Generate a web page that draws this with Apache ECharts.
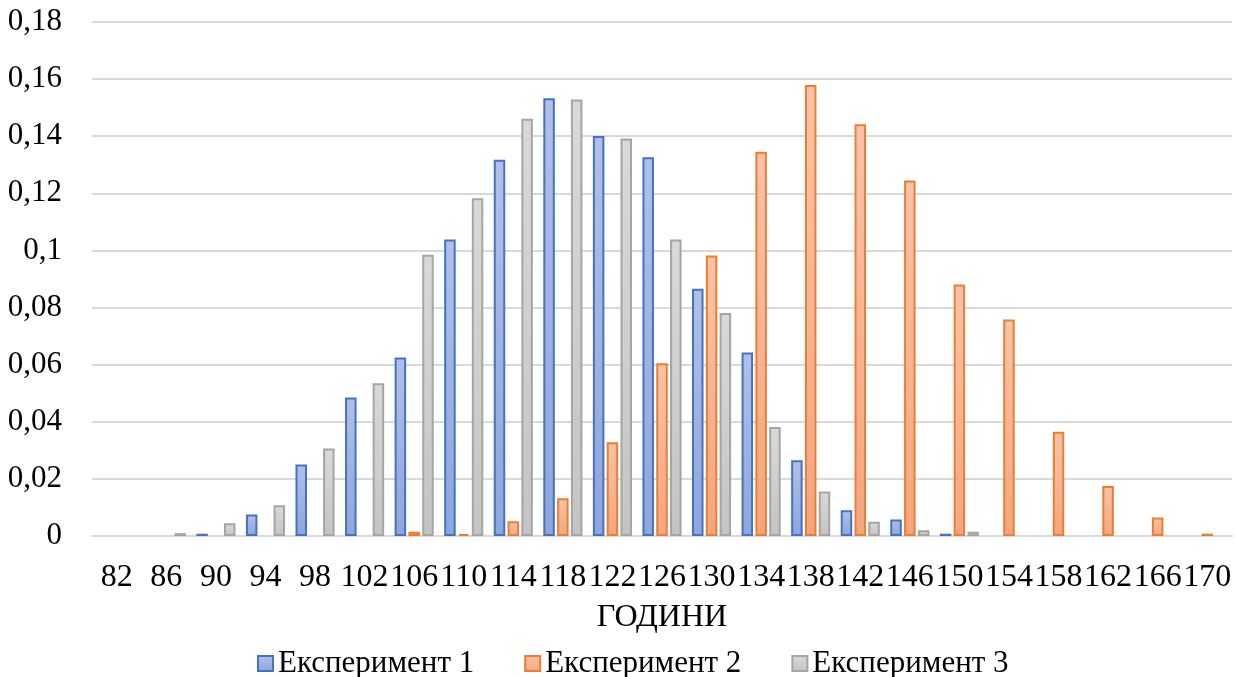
<!DOCTYPE html>
<html>
<head>
<meta charset="utf-8">
<script src="https://cdn.jsdelivr.net/npm/echarts@6/dist/echarts.min.js"></script>
<style>
  html, body { margin: 0; padding: 0; background: #fff; }
  #chart { width: 1235px; height: 677px; }
</style>
</head>
<body>
<div id="chart"></div>
<script>
// Години (categories on the x axis)
const categories = ['82','86','90','94','98','102','106','110','114','118','122','126',
  '130','134','138','142','146','150','154','158','162','166','170'];

// Relative frequencies for each experiment
const experiment1 = [0, 0, 0.0008, 0.0075, 0.025, 0.0485, 0.0625, 0.1038, 0.1318, 0.1533,
  0.1401, 0.1326, 0.0866, 0.0643, 0.0265, 0.009, 0.0058, 0.0008, 0, 0, 0, 0, 0];
const experiment2 = [0, 0, 0, 0, 0, 0, 0.0015, 0.0007, 0.0052, 0.0132, 0.0328, 0.0605,
  0.0982, 0.1346, 0.1579, 0.1442, 0.1245, 0.0881, 0.0758, 0.0365, 0.0175, 0.0065, 0.0008];
const experiment3 = [0, 0.001, 0.0045, 0.0108, 0.0306, 0.0535, 0.0985, 0.1183, 0.1461, 0.1529,
  0.1392, 0.1038, 0.0781, 0.0382, 0.0156, 0.005, 0.002, 0.0015, 0, 0, 0, 0, 0];

const seriesNames = ['Експеримент 1', 'Експеримент 2', 'Експеримент 3'];
const yTicks = { min: 0, max: 0.18, interval: 0.02 };

const FONT = '"Liberation Serif", "Times New Roman", serif';

function grad(top, bottom) {
  return { type: 'linear', x: 0, y: 0, x2: 0, y2: 1,
    colorStops: [{ offset: 0, color: top }, { offset: 1, color: bottom }] };
}

const styles = [
  { fill: grad('#b1c0e6', '#8ea6dc'), border: '#4472c4' },
  { fill: grad('#f8c3a8', '#f4a67e'), border: '#ed7d31' },
  { fill: grad('#d9d9d9', '#c4c4c4'), border: '#a5a5a5' }
];

const dataSets = [experiment1, experiment2, experiment3];

const chart = echarts.init(document.getElementById('chart'), null, { renderer: 'canvas' });

chart.setOption({
  animation: false,
  backgroundColor: '#ffffff',
  textStyle: { fontFamily: FONT },
  grid: { left: 92, right: 3, top: 22, bottom: 141, containLabel: false },
  legend: {
    data: seriesNames,
    icon: 'rect',
    left: 252,
    top: 643,
    itemWidth: 15,
    itemHeight: 15,
    itemGap: 50,
    textStyle: { fontFamily: FONT, fontSize: 31, color: '#000' }
  },
  xAxis: {
    type: 'category',
    data: categories,
    name: 'ГОДИНИ',
    nameLocation: 'middle',
    nameGap: 66,
    nameTextStyle: { fontFamily: FONT, fontSize: 32, color: '#000' },
    axisLine: { show: true, lineStyle: { color: '#d9d9d9', width: 2 } },
    axisTick: { show: false },
    axisLabel: { interval: 0, margin: 26, fontFamily: FONT, fontSize: 32, color: '#000' }
  },
  yAxis: {
    type: 'value',
    min: yTicks.min,
    max: yTicks.max,
    interval: yTicks.interval,
    axisLine: { show: false },
    axisTick: { show: false },
    splitLine: { lineStyle: { color: '#d9d9d9', width: 2 } },
    axisLabel: {
      margin: 30,
      fontFamily: FONT,
      fontSize: 31,
      color: '#000',
      formatter: v => {
        const s = parseFloat(v.toFixed(2)).toString();
        return s.replace('.', ',');
      }
    }
  },
  series: seriesNames.map((name, i) => ({
    name,
    type: 'bar',
    // empty bins carry no bar at all
    data: dataSets[i].map(v => (v === 0 ? '-' : v)),
    barWidth: 11.5,
    barGap: '20%',
    itemStyle: { color: styles[i].fill, borderColor: styles[i].border, borderWidth: 2 }
  }))
});
</script>
</body>
</html>
